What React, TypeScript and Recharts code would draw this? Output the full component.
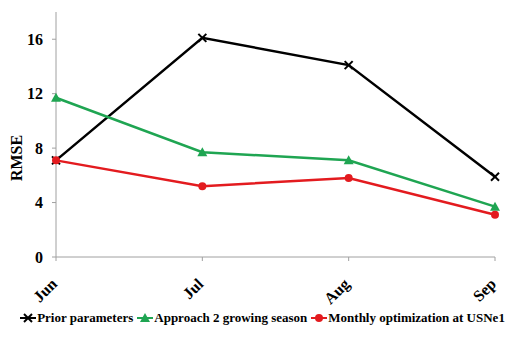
import React from 'react';
import { LineChart, Line, XAxis, YAxis, Legend } from 'recharts';

const months = ['Jun', 'Jul', 'Aug', 'Sep'];
const priorParams = [7.1, 16.1, 14.1, 5.9];
const approach2 = [11.7, 7.7, 7.1, 3.7];
const monthlyOpt = [7.1, 5.2, 5.8, 3.1];
const yTicks = [0, 4, 8, 12, 16];

const series = [
  { key: 'prior', name: 'Prior parameters', color: '#000000', shape: 'x' },
  { key: 'appr', name: 'Approach 2 growing season', color: '#1fa552', shape: 'triangle' },
  { key: 'monthly', name: 'Monthly optimization at USNe1', color: '#e31b1f', shape: 'circle' },
];

const data = months.map((m, i) => ({
  month: m,
  prior: priorParams[i],
  appr: approach2[i],
  monthly: monthlyOpt[i],
}));

const FONT = '"Liberation Serif", "Times New Roman", serif';

function Marker({ cx, cy, shape, color }: { cx: number; cy: number; shape: string; color: string }) {
  if (cx == null || cy == null) return null;
  if (shape === 'x') {
    const s = 4;
    return (
      <g stroke={color} strokeWidth={2}>
        <line x1={cx - s} y1={cy - s} x2={cx + s} y2={cy + s} />
        <line x1={cx - s} y1={cy + s} x2={cx + s} y2={cy - s} />
      </g>
    );
  }
  if (shape === 'triangle') {
    const s = 5;
    return <polygon points={`${cx},${cy - s} ${cx - s},${cy + s * 0.8} ${cx + s},${cy + s * 0.8}`} fill={color} />;
  }
  return <circle cx={cx} cy={cy} r={4} fill={color} />;
}

function XTick({ x, y, payload }: any) {
  return (
    <text
      transform={`translate(${x + 2},${y + 22}) rotate(-45)`}
      textAnchor="end"
      fontFamily={FONT}
      fontWeight="bold"
      fontSize={16}
      fill="#000"
    >
      {payload.value}
    </text>
  );
}

function LegendContent() {
  return (
    <div
      style={{
        display: 'flex',
        justifyContent: 'center',
        fontFamily: FONT,
        fontWeight: 'bold',
        fontSize: 13,
        color: '#000',
        whiteSpace: 'nowrap',
        marginTop: 3,
        paddingLeft: 32,
      }}
    >
      {series.map((s) => (
        <span key={s.key} style={{ display: 'inline-flex', alignItems: 'center', marginRight: 3 }}>
          <svg width={18} height={12}>
            <line x1={1} y1={6} x2={17} y2={6} stroke={s.color} strokeWidth={2} />
            <Marker cx={9} cy={6} shape={s.shape} color={s.color} />
          </svg>
          {s.name}
        </span>
      ))}
    </div>
  );
}

export default function App() {
  return (
    <div style={{ position: 'absolute', left: 0, top: 0, width: 512, height: 352, background: '#fff' }}>
      <LineChart width={512} height={352} data={data} margin={{ top: 12, right: 17, left: 0, bottom: 25 }}>
        <XAxis
          dataKey="month"
          padding={{ left: 0, right: 0 }}
          height={50}
          interval={0}
          tick={<XTick />}
          tickSize={4}
          axisLine={{ stroke: '#a0a0a0' }}
          tickLine={{ stroke: '#a0a0a0' }}
        />
        <XAxis xAxisId="top" orientation="top" dataKey="month" height={0} tick={false} tickLine={false} axisLine={{ stroke: '#a0a0a0' }} />
        <YAxis
          domain={[0, 18]}
          ticks={yTicks}
          width={56}
          tickSize={4}
          tickMargin={9}
          axisLine={{ stroke: '#a0a0a0' }}
          tickLine={{ stroke: '#a0a0a0' }}
          tick={{ fontFamily: FONT, fontWeight: 'bold', fontSize: 16, fill: '#000' }}
        />
        <YAxis yAxisId="right" orientation="right" domain={[0, 18]} width={0} tick={false} tickLine={false} axisLine={{ stroke: '#a0a0a0' }} />
        {series.map((s) => (
          <Line
            key={s.key}
            dataKey={s.key}
            name={s.name}
            stroke={s.color}
            strokeWidth={2.5}
            isAnimationActive={false}
            dot={(p: any) => <Marker key={`${s.key}-${p.index}`} cx={p.cx} cy={p.cy} shape={s.shape} color={s.color} />}
            activeDot={false}
          />
        ))}
        <Legend verticalAlign="bottom" height={20} content={<LegendContent />} />
      </LineChart>
      <svg width={30} height={352} style={{ position: 'absolute', left: 0, top: 0, pointerEvents: 'none' }}>
        <text
          transform="translate(22,158) rotate(-90)"
          textAnchor="middle"
          fontFamily={FONT}
          fontWeight="bold"
          fontSize={16}
          fill="#000"
        >
          RMSE
        </text>
      </svg>
    </div>
  );
}
